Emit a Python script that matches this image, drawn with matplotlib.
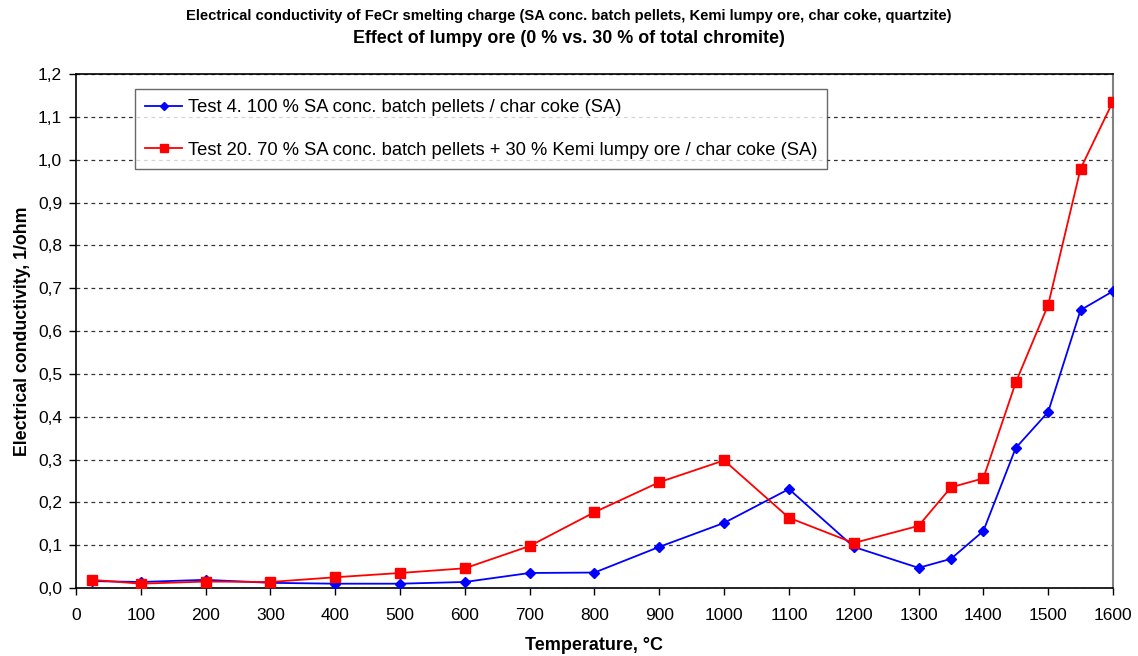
import matplotlib
matplotlib.use('Agg')
import matplotlib.pyplot as plt
from matplotlib.ticker import FuncFormatter

plt.rcParams['font.family'] = ['Liberation Sans', 'DejaVu Sans']

# Temperatures, °C
temp = [25, 100, 200, 300, 400, 500, 600, 700, 800, 900, 1000,
        1100, 1200, 1300, 1350, 1400, 1450, 1500, 1550, 1600]

# Test 4 - 100 % SA pellets
test4 = [0.016, 0.014, 0.019, 0.012, 0.010, 0.010, 0.014, 0.035, 0.036, 0.096,
         0.152, 0.231, 0.096, 0.047, 0.068, 0.133, 0.327, 0.411, 0.649, 0.693]

# Test 20 - 70 % pellets + 30 % lumpy ore
test20 = [0.019, 0.010, 0.015, 0.014, 0.025, 0.035, 0.046, 0.098, 0.177, 0.247,
          0.298, 0.164, 0.105, 0.145, 0.235, 0.256, 0.480, 0.661, 0.979, 1.136]

label4 = 'Test 4. 100 % SA conc. batch pellets / char coke (SA)'
label20 = 'Test 20. 70 % SA conc. batch pellets + 30 % Kemi lumpy ore / char coke (SA)'

fig = plt.figure(figsize=(11.38, 6.56), dpi=100)
ax = fig.add_axes([0.0668, 0.1037, 0.9112, 0.7833])

ax.plot(temp, test4, color='#0000ff', marker='D', markersize=5.5, lw=1.3,
        label=label4, zorder=3)
ax.plot(temp, test20, color='#ff0000', marker='s', markersize=7, lw=1.3,
        label=label20, zorder=3)

ax.set_xlim(0, 1600)
ax.set_ylim(0, 1.2)
ax.set_xticks(range(0, 1601, 100))
ax.set_yticks([i / 10 for i in range(13)])
ax.yaxis.set_major_formatter(FuncFormatter(lambda v, p: f'{v:.1f}'.replace('.', ',')))
ax.tick_params(direction='out', length=5, labelsize=12.5, width=1)
ax.tick_params(axis='x', pad=9.5)
ax.tick_params(axis='y', pad=5)

ax.yaxis.grid(True, linestyle=(0, (3, 3)), color='#333333', lw=0.9)
ax.set_axisbelow(True)

ax.spines['right'].set_color('#808080')
ax.spines['right'].set_linewidth(1.5)
for s in ['left', 'bottom', 'top']:
    ax.spines[s].set_linewidth(1.2)

ax.set_xlabel('Temperature, °C', fontsize=13, fontweight='bold', labelpad=10)
ax.set_ylabel('Electrical conductivity, 1/ohm', fontsize=12.8, fontweight='bold', labelpad=5)

fig.text(0.5, 0.9756, 'Electrical conductivity of FeCr smelting charge (SA conc. batch pellets, '
         'Kemi lumpy ore, char coke, quartzite)', ha='center', va='center',
         fontsize=10.6, fontweight='bold')
fig.text(0.5, 0.942, 'Effect of lumpy ore (0 % vs. 30 % of total chromite)',
         ha='center', va='center', fontsize=12.9, fontweight='bold')

leg = ax.legend(loc='upper left', bbox_to_anchor=(0.057, 0.971), fontsize=13.25,
                frameon=True, fancybox=False, edgecolor='#444444',
                borderpad=0.55, labelspacing=1.4, handlelength=2.0,
                handletextpad=0.3, borderaxespad=0, markerscale=0.8)
leg.get_frame().set_linewidth(1)

fig.savefig('out.png', dpi=100)
